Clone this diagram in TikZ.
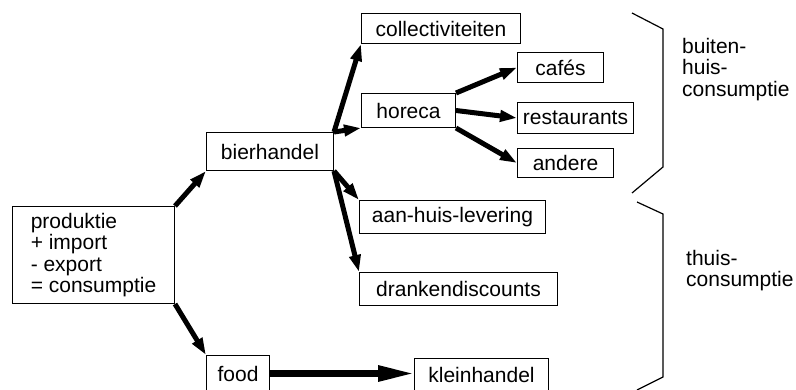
\documentclass[tikz,border=0pt]{standalone}
\usepackage{fontspec}
\setmainfont{Liberation Sans}
\usetikzlibrary{arrows.meta}

\begin{document}
\begin{tikzpicture}[x=1pt,y=-1pt,
    box/.style={draw,line width=1pt,anchor=north west,inner sep=0pt,align=left},
    lbl/.style={anchor=north west,inner sep=0pt,align=left},
    pijl/.style={line width=5pt,-{Triangle[length=17pt,width=11pt]}},
    every node/.append style={font=\fontsize{21}{21.5}\selectfont}]
\clip (0,0) rectangle (796,390);

\node[box,minimum width=162pt,minimum height=97pt] (p) at (12,206) {produktie\\+ import\\- export\\= consumptie};
\node[box,minimum width=127pt,minimum height=38pt] (b) at (206,132) {bierhandel};
\node[box,minimum width=63pt,minimum height=36pt] (f) at (206,355) {food};

\node[box,minimum width=159pt,minimum height=30pt] (c) at (361,13) {collectiviteiten};
\node[box,minimum width=94pt,minimum height=34pt] (h) at (361,93) {horeca};
\node[box,minimum width=186pt,minimum height=33pt] (d1) at (359,200) {aan-huis-levering};
\node[box,minimum width=198pt,minimum height=33pt] (d2) at (359,272) {drankendiscounts};
\node[box,minimum width=134pt,minimum height=33pt] (k) at (414,358) {kleinhandel};

\node[box,minimum width=86pt,minimum height=30pt] (h1) at (517,52) {cafés};
\node[box,minimum width=116pt,minimum height=31pt] (h2) at (517,102) {restaurants};
\node[box,minimum width=96pt,minimum height=29pt] (h3) at (517,148) {andere};

\draw[pijl] (p.north east) -- (b.south west);
\draw[pijl] (p.south east) -- (f.north west);
\draw[pijl] (b.north east) -- (c.south west);
\draw[pijl] (b.north east) -- (h.south west);
\draw[pijl] (b.south east) -- (d1.north west);
\draw[pijl] (b.south east) -- (d2.north west);
\draw[pijl] (h.north east) -- (h1.west);
\draw[pijl] (h.east) -- (h2.west);
\draw[pijl] (h.south east) -- (h3.west);
\draw[pijl,line width=6pt,-{Triangle[length=36pt,width=15pt]}] (f.east) -- (f.east -| k.west);

% haken
\draw[line width=1.2pt] (632,13) -- (663,29) -- (663,167) -- (632,193);
\draw[line width=1.2pt] (637,202) -- (663,214) -- (663,377) -- (637,390);

\node[lbl] (bu) at (682,38) {buiten-\\huis-\\consumptie};
\node[lbl] (th) at (686,250) {thuis-\\consumptie};
\end{tikzpicture}
\end{document}
